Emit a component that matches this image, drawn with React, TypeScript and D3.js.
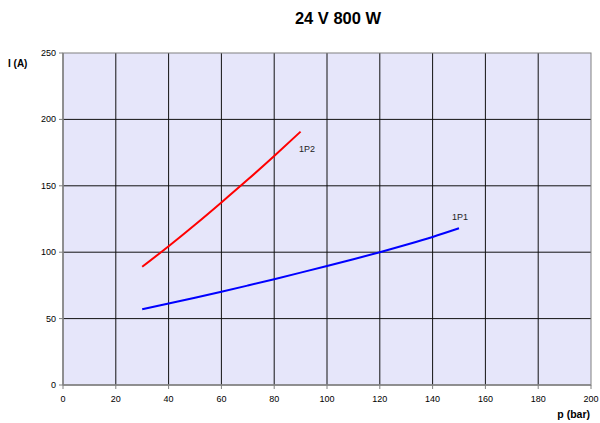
import React from "react";
import * as d3 from "d3";

const title = "24 V 800 W";
const xTicks = [0, 20, 40, 60, 80, 100, 120, 140, 160, 180, 200];
const yTicks = [0, 50, 100, 150, 200, 250];
const p1P2 = [30, 40, 50, 60, 70, 80, 90];
const i1P2 = [89, 104.5, 120.7, 137.5, 154.7, 172.5, 190.8];
const p1P1 = [30, 40, 50, 60, 70, 80, 90, 100, 110, 120, 130, 140, 150];
const i1P1 = [57, 61.3, 65.7, 70.2, 74.9, 79.7, 84.6, 89.6, 94.7, 100, 105.6, 111.5, 118];

export default function App() {
  const W = 600, H = 423;
  const left = 63, right = 591, top = 53, bottom = 385;
  const x = d3.scaleLinear().domain([0, 200]).range([left, right]);
  const y = d3.scaleLinear().domain([0, 250]).range([bottom, top]);
  const line = d3.line<[number, number]>().x(d => x(d[0])).y(d => y(d[1])).curve(d3.curveMonotoneX);
  const red = p1P2.map((p, i) => [p, i1P2[i]] as [number, number]);
  const blue = p1P1.map((p, i) => [p, i1P1[i]] as [number, number]);
  const font = "Liberation Sans, Arial, sans-serif";
  return (
    <svg width={W} height={H} style={{ position: "absolute", left: 0, top: 0 }} fontFamily={font}>
      <rect x={0} y={0} width={W} height={H} fill="#fff" />
      <text x={338} y={24} textAnchor="middle" fontSize={16.5} fontWeight="bold">{title}</text>
      <rect x={left} y={top} width={right - left} height={bottom - top} fill="#E6E6FA" />
      {xTicks.slice(1, -1).map(t => (
        <line key={"gx" + t} x1={x(t)} x2={x(t)} y1={top} y2={bottom} stroke="#111" strokeWidth={1} />
      ))}
      {yTicks.slice(1, -1).map(t => (
        <line key={"gy" + t} x1={left} x2={right} y1={y(t)} y2={y(t)} stroke="#111" strokeWidth={1} />
      ))}
      <rect x={left} y={top} width={right - left} height={bottom - top} fill="none" stroke="#808080" strokeWidth={1} />
      <line x1={left} x2={left} y1={top} y2={bottom} stroke="#808080" strokeWidth={1.5} />
      <line x1={left} x2={right} y1={bottom} y2={bottom} stroke="#808080" strokeWidth={1.5} />
      {xTicks.map(t => (
        <g key={"xt" + t}>
          <line x1={x(t)} x2={x(t)} y1={bottom} y2={bottom + 4} stroke="#808080" />
          <text x={x(t)} y={bottom + 17} textAnchor="middle" fontSize={9}>{t}</text>
        </g>
      ))}
      {yTicks.map(t => (
        <g key={"yt" + t}>
          <line x1={left - 4} x2={left} y1={y(t)} y2={y(t)} stroke="#808080" />
          <text x={left - 7} y={y(t) + 3} textAnchor="end" fontSize={9}>{t}</text>
        </g>
      ))}
      <path d={line(red) || ""} fill="none" stroke="#FF0000" strokeWidth={2} />
      <path d={line(blue) || ""} fill="none" stroke="#0000FF" strokeWidth={2} />
      <text x={299} y={152} fontSize={9} fill="#222">1P2</text>
      <text x={452} y={220} fontSize={9} fill="#222">1P1</text>
      <text x={8} y={67} fontSize={10} fontWeight="bold">I (A)</text>
      <text x={590} y={418} textAnchor="end" fontSize={10.5} fontWeight="bold">p (bar)</text>
    </svg>
  );
}
